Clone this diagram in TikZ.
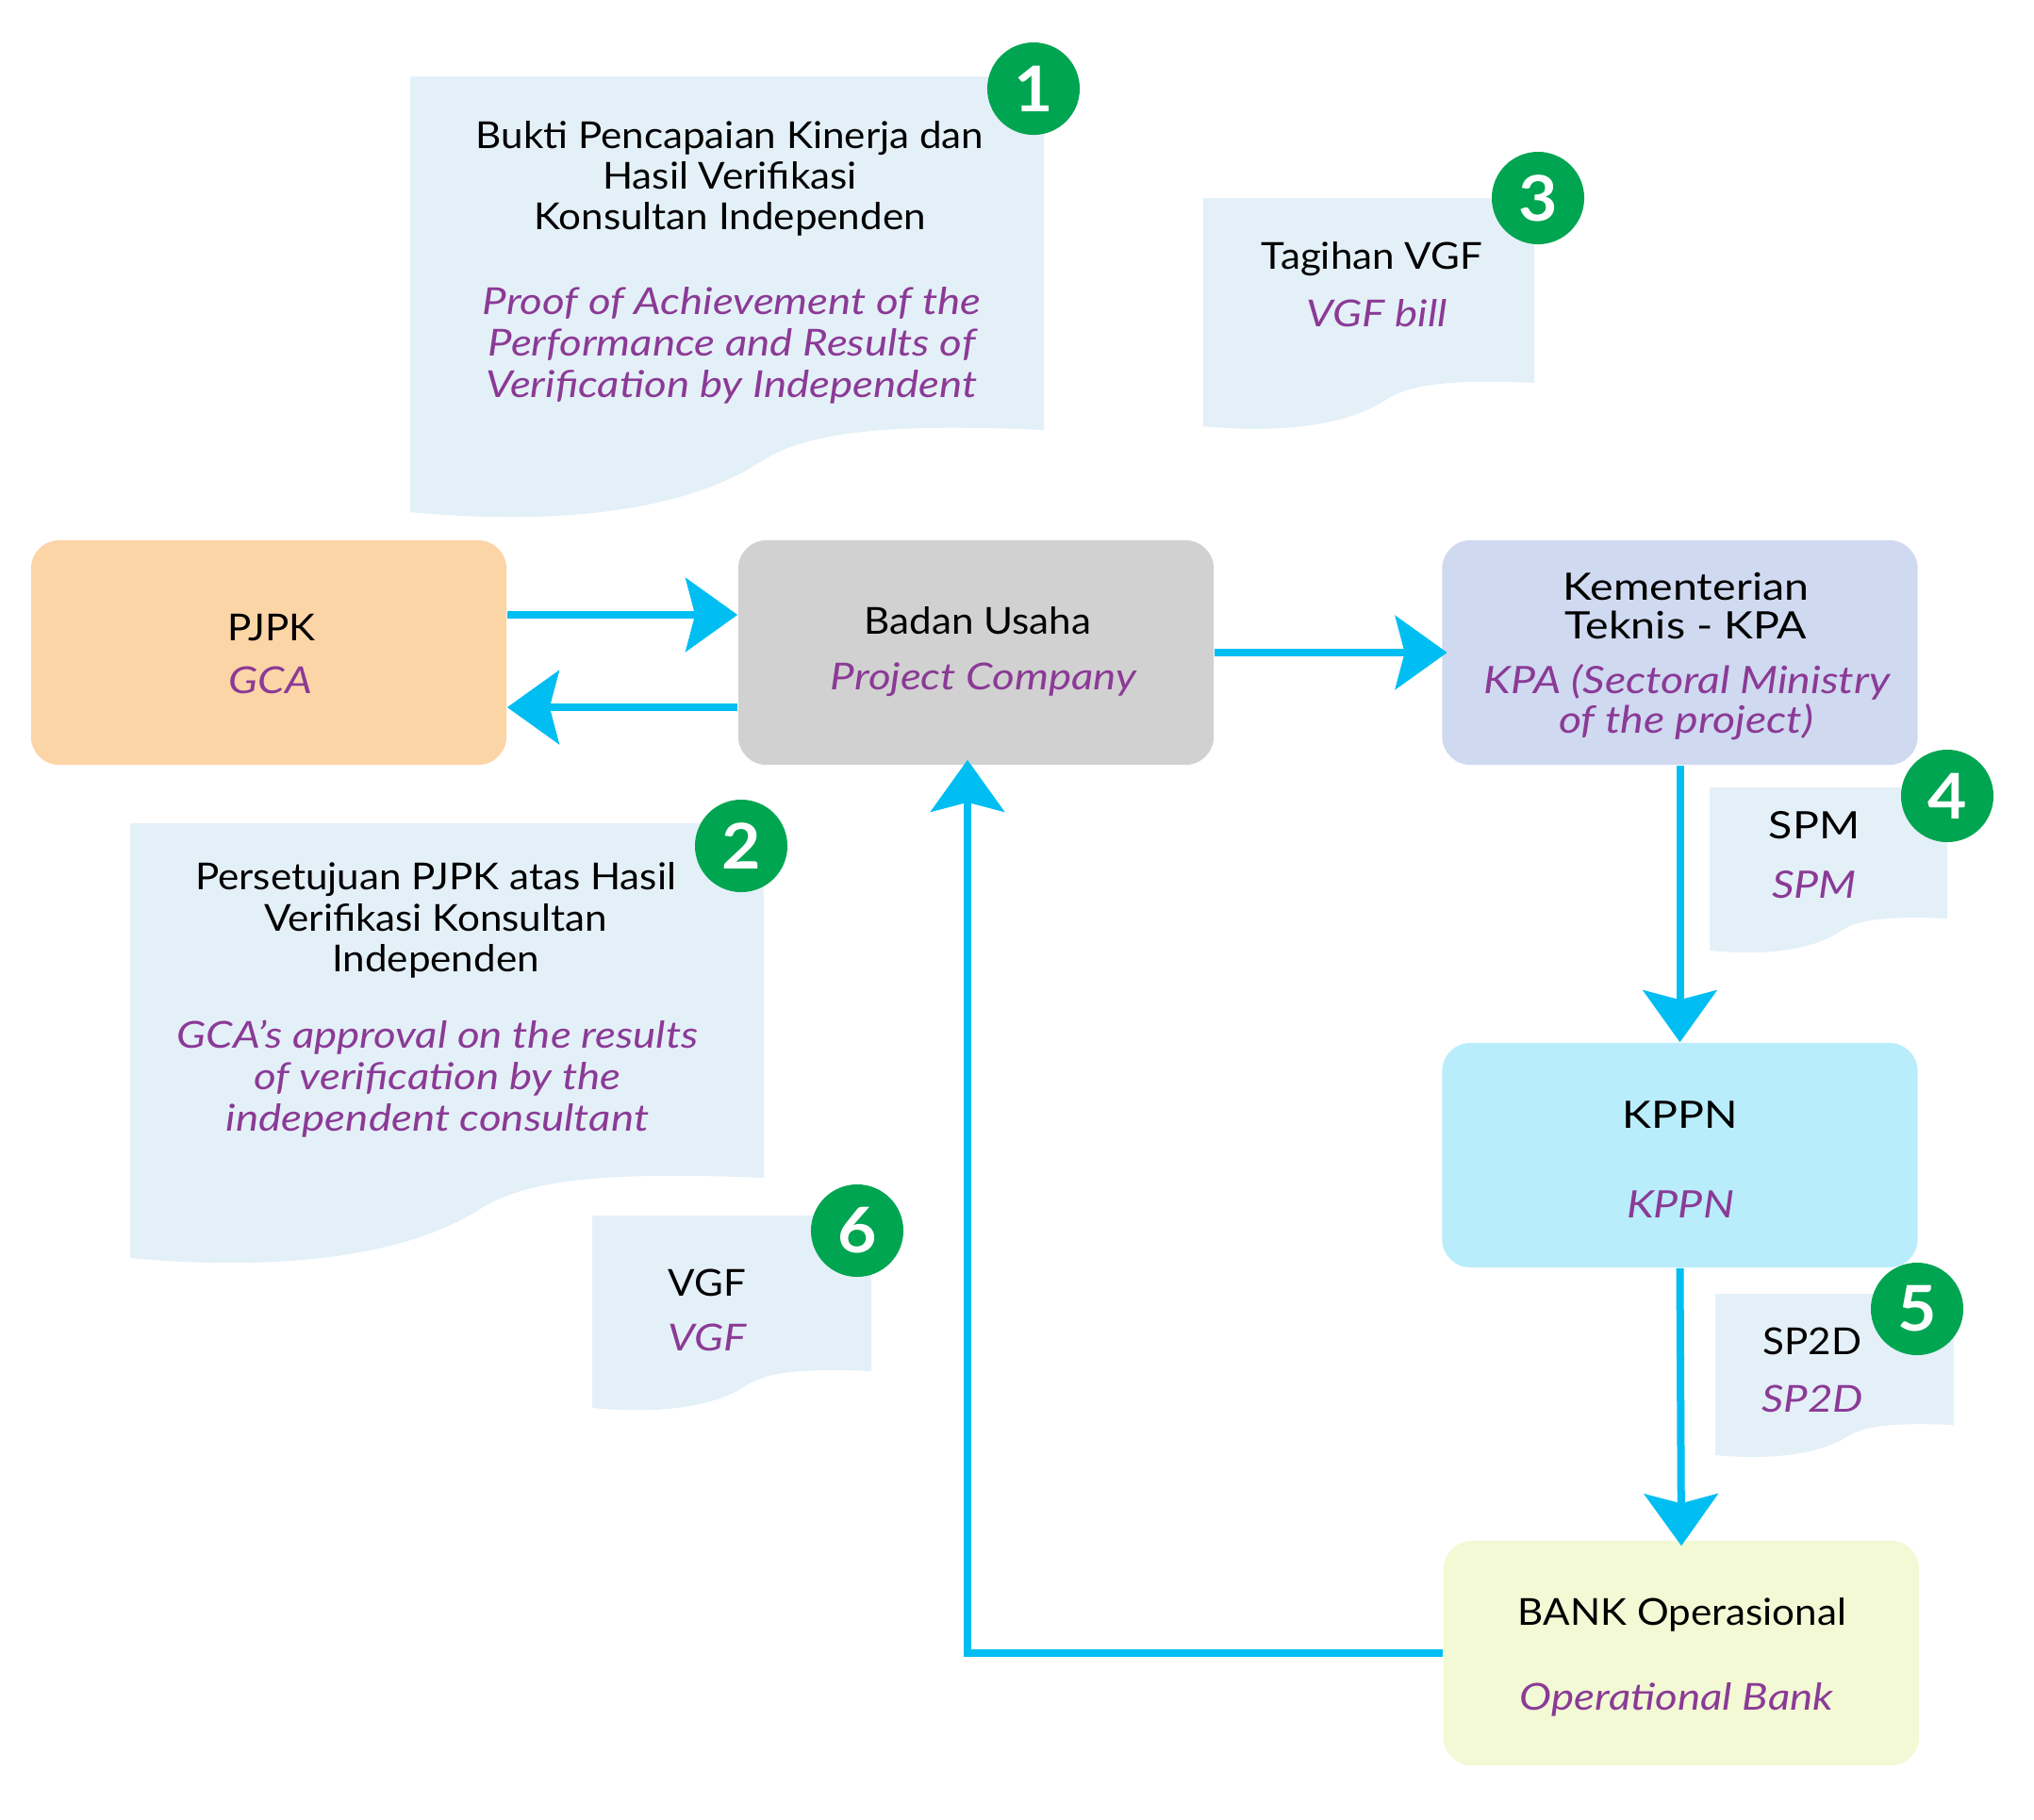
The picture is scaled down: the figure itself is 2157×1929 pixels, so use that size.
\documentclass[tikz,border=0pt]{standalone}
\usepackage{fontspec}
\setmainfont{Lato}[FakeStretch=1.07]
\newfontfamily\widefont{Lato}[FakeStretch=1.16]
\newfontfamily\itfont{Lato}[FakeStretch=1.16]
\usetikzlibrary{arrows.meta}
\definecolor{pjpkc}{HTML}{FCD5A7}
\definecolor{badanc}{HTML}{D1D1D1}
\definecolor{kemc}{HTML}{CFD9F0}
\definecolor{kppnc}{HTML}{B9EDFC}
\definecolor{bankc}{HTML}{F2F9D4}
\definecolor{docc}{HTML}{E4F0F8}
\definecolor{badgec}{HTML}{00A551}
\definecolor{arrc}{HTML}{00BEF2}
\definecolor{purp}{HTML}{8B3A96}
\newcommand\docpath[5]{%
  (#1,#3) -- (#2,#3) -- (#2,#4)
  .. controls ({#1+0.73*(#2-#1)},{#4-0.09*(#5-#4)}) and ({#1+0.62*(#2-#1)},{#4+0.05*(#5-#4)}) ..
  ({#1+0.55*(#2-#1)},{#4+0.4*(#5-#4)})
  .. controls ({#1+0.42*(#2-#1)},{#5+0.05*(#5-#4)}) and ({#1+0.2*(#2-#1)},{#5+0.15*(#5-#4)}) ..
  (#1,#5) -- cycle}
\begin{document}
\begin{tikzpicture}[x=0.01cm,y=-0.01cm,
  box/.style={rounded corners=0.3cm, minimum width=5.04cm, minimum height=2.38cm, inner sep=0pt, draw=none},
  blk/.style={anchor=base, inner sep=0pt, text=black, font=\fontsize{11.2}{13}\selectfont},
  ita/.style={anchor=base, inner sep=0pt, text=purp, font=\itfont\fontsize{11.2}{13}\selectfont\itshape},
  wblk/.style={anchor=base, inner sep=0pt, text=black, font=\widefont\fontsize{11.4}{13}\selectfont},
  wita/.style={anchor=base, inner sep=0pt, text=purp, font=\widefont\fontsize{11.4}{13}\selectfont\itshape},
  badge/.style={circle, fill=badgec, minimum size=0.98cm, inner sep=0pt, text=white, font=\fontsize{19}{19}\selectfont\bfseries},
  arr/.style={draw=arrc, line width=0.08cm, -{Stealth[length=0.55cm,width=0.78cm,inset=0.1cm]}}
]
\useasboundingbox (0,0) rectangle (2157,1929);

% document shapes
\fill[docc] \docpath{435}{1107}{81}{456}{543};
\fill[docc] \docpath{138}{810}{873}{1249}{1334};
\fill[docc] \docpath{1276}{1627}{210}{406}{452};
\fill[docc] \docpath{1813}{2065}{835}{974}{1008};
\fill[docc] \docpath{1819}{2072}{1372}{1511}{1543};
\fill[docc] \docpath{628}{924}{1289}{1454}{1493};

% boxes
\node[box, fill=pjpkc] (pjpk) at (285,692) {};
\node[box, fill=badanc] (badan) at (1035,692) {};
\node[box, fill=kemc] (kem) at (1781.5,692) {};
\node[box, fill=kppnc] (kppn) at (1781.5,1225) {};
\node[box, fill=bankc] (bank) at (1783,1753) {};

% box texts
\node[blk] (pjpka) at (288,679) {PJPK};
\node[ita] (pjpkb) at (287,735) {GCA};
\node[blk] (badana) at (1037,672) {Badan Usaha};
\node[ita] (badanb) at (1043,731) {Project Company};
\node[wblk] (kema) at (1788,636) {Kementerian};
\node[wblk] (kemb) at (1788,677) {Teknis - KPA};
\node[wita] (kemc1) at (1789,735) {KPA (Sectoral Ministry};
\node[wita] (kemd) at (1788,777) {of the project)};
\node[wblk] (kppna) at (1782,1196) {KPPN};
\node[wita] (kppnb) at (1782,1291) {KPPN};
\node[blk] (banka) at (1784,1723) {BANK Operasional};
\node[ita] (bankb) at (1778,1813) {Operational Bank};

% document texts
\node[blk] (d1a) at (774,157) {Bukti Pencapaian Kinerja dan};
\node[blk] (d1b) at (774,200) {Hasil Verifikasi};
\node[blk] (d1c) at (774,243) {Konsultan Independen};
\node[ita] (d1d) at (776,333) {Proof of Achievement of the};
\node[ita] (d1e) at (776,377) {Performance and Results of};
\node[ita] (d1f) at (776,421) {Verification by Independent};

\node[blk] (d2a) at (462,943) {Persetujuan PJPK atas Hasil};
\node[blk] (d2b) at (462,987) {Verifikasi Konsultan};
\node[blk] (d2c) at (462,1030) {Independen};
\node[ita] (d2d) at (464,1111) {GCA’s approval on the results};
\node[ita] (d2e) at (464,1155) {of verification by the};
\node[ita] (d2f) at (464,1199) {independent consultant};

\node[blk] (d3a) at (1455,285) {Tagihan VGF};
\node[ita] (d3b) at (1460,346) {VGF bill};

\node[wblk] (d4a) at (1924,889) {SPM};
\node[wita] (d4b) at (1924,952) {SPM};

\node[blk] (d5a) at (1922,1436) {SP2D};
\node[ita] (d5b) at (1922,1497) {SP2D};

\node[blk] (d6a) at (750,1374) {VGF};
\node[ita] (d6b) at (750,1432) {VGF};

% badges
\node[badge] (b1) at (1096,94) {1};
\node[badge] (b2) at (786,897) {2};
\node[badge] (b3) at (1631,210) {3};
\node[badge] (b4) at (2065,844) {4};
\node[badge] (b5) at (2033,1388) {5};
\node[badge] (b6) at (909,1305) {6};

% connectors
\draw[arr] ([yshift=0.4cm]pjpk.east) -- ([yshift=0.4cm]badan.west);
\draw[arr] ([yshift=-0.58cm]badan.west) -- ([yshift=-0.58cm]pjpk.east);
\draw[arr, shorten >=-0.06cm] (badan.east) -- (kem.west);
\draw[arr] (kem.south) -- (kppn.north);
\draw[arr, shorten >=-0.06cm] (kppn.south) -- (bank.north);
\draw[arr, shorten >=-0.06cm] (bank.west) -| ([xshift=-0.09cm]badan.south);
\end{tikzpicture}
\end{document}
